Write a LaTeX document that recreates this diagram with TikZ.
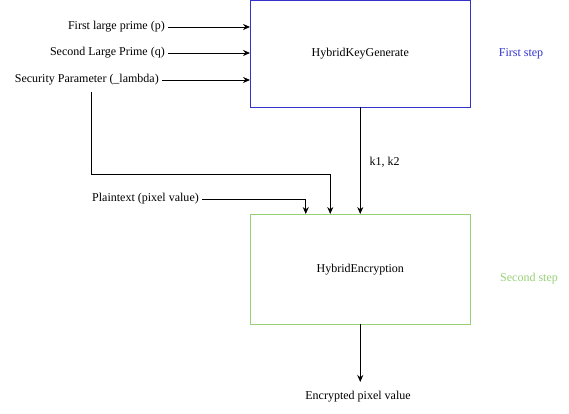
\documentclass[tikz,border=0pt]{standalone}
\usepackage{fontspec}
\setmainfont{Liberation Serif}
\usetikzlibrary{arrows.meta}
\definecolor{stepblue}{HTML}{3333CC}
\definecolor{stepgreen}{HTML}{97D077}
\tikzset{
	lbl/.style={font=\fontsize{12}{14}\selectfont, inner sep=3pt},
	inlbl/.style={lbl, anchor=east},
	arr/.style={line width=0.9pt, -{Stealth[length=7pt,width=6pt]}},
	blk/.style={draw, line width=0.9pt, minimum width=219.5pt, lbl},
}

\begin{document}
\begin{tikzpicture}[x=1pt,y=-1pt]
	\useasboundingbox (0,0) rectangle (569,414);

	\node [blk, draw=stepblue, minimum height=106.5pt] (gen) at (360.25,53.75) {HybridKeyGenerate};
	\node [blk, draw=stepgreen, minimum height=109.5pt] (enc) at (360.25,269.25) {HybridEncryption};

	\node [lbl, text=stepblue] (first) at (521,54) {First step};
	\node [lbl, text=stepgreen] (second) at (529,279) {Second step};

	\node [inlbl] (p) at (168,27) {First large prime (p)};
	\node [inlbl] (q) at (168,53) {Second Large Prime (q)};
	\node [inlbl] (lambda) at (162,80) {Security Parameter (\_lambda)};
	\node [inlbl] (plain) at (202,199) {Plaintext (pixel value)};
	\node [lbl] (out) at (358,397) {Encrypted pixel value};
	\coordinate (outend) at (360.25,382);

	\draw [arr] (p.east) -- (p.east -| gen.west);
	\draw [arr] (q.east) -- (q.east -| gen.west);
	\draw [arr] (lambda.east) -- (lambda.east -| gen.west);

	\draw [arr] ([xshift=4.5pt,yshift=-3pt]lambda.south) |- ([xshift=-30pt,yshift=40pt]enc.north) -- ([xshift=-30pt]enc.north);
	\draw [arr] (plain.east) -| ([xshift=-54.5pt]enc.north);

	\draw [arr] (gen.south) -- node [lbl, right, xshift=6pt, yshift=-2pt] {k1, k2} (enc.north);
	\draw [arr] (enc.south) -- (outend);
\end{tikzpicture}
\end{document}
